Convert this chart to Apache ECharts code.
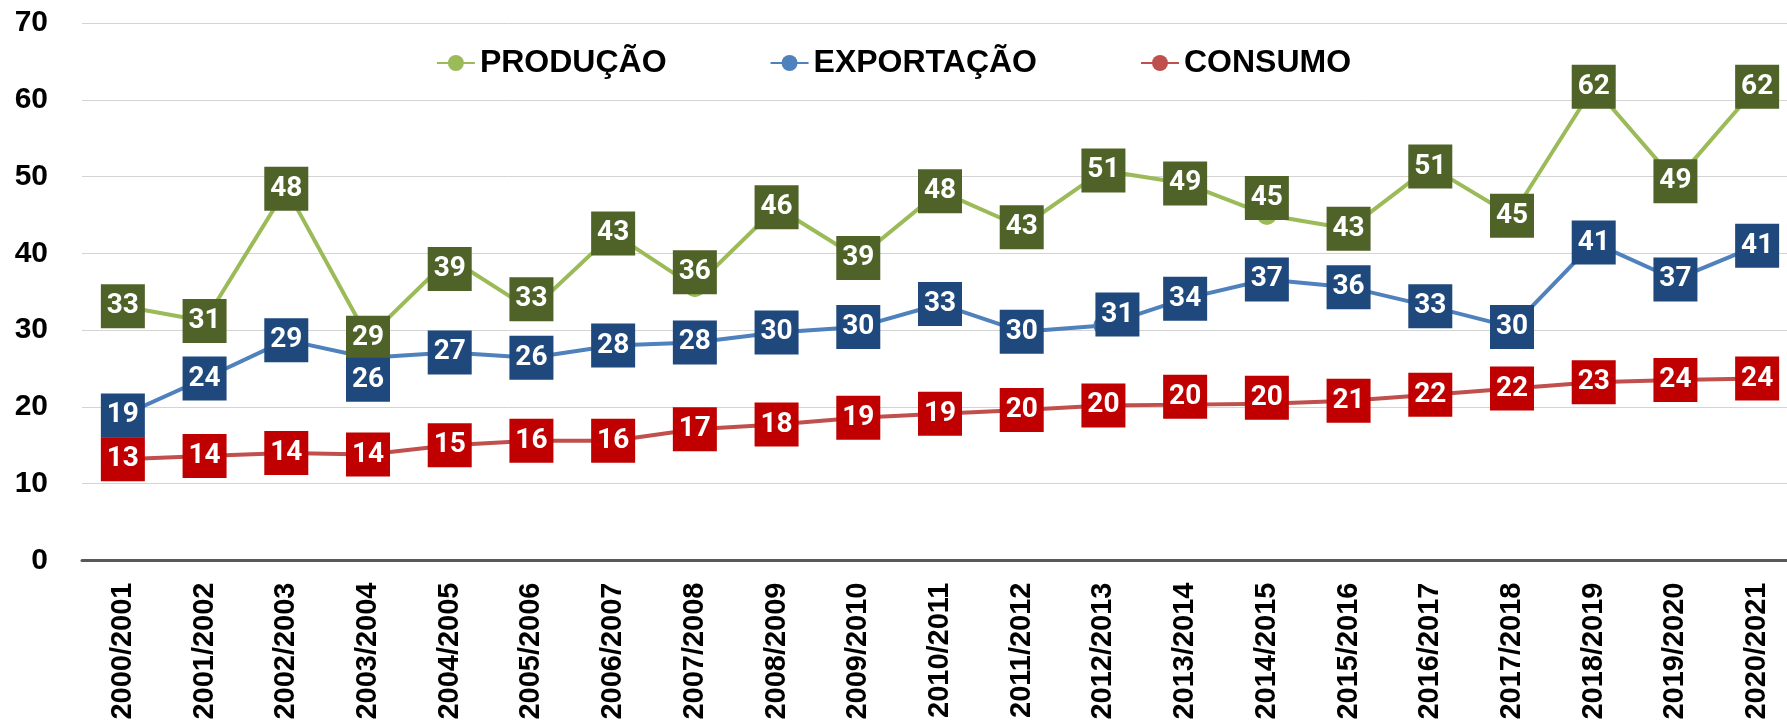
<!doctype html>
<html>
    <head>
        <meta charset="utf-8">
        <style>
            html, body { margin: 0; padding: 0; background: #fff; }
            #main { width: 1787px; height: 724px; }
        </style>
    </head>
    <body>
        <div id="main"></div>
        <script src="https://cdn.jsdelivr.net/npm/echarts@6/dist/echarts.min.js"></script>
        <script>
            var categories = ['2000/2001', '2001/2002', '2002/2003', '2003/2004', '2004/2005', '2005/2006', '2006/2007',
                '2007/2008', '2008/2009', '2009/2010', '2010/2011', '2011/2012', '2012/2013', '2013/2014',
                '2014/2015', '2015/2016', '2016/2017', '2017/2018', '2018/2019', '2019/2020', '2020/2021'];

            var producao = [33.1, 31.2, 48.4, 29.0, 39.4, 32.6, 42.6, 35.6, 46.0, 39.4, 48.1,
                43.4, 50.8, 49.1, 45.0, 43.2, 51.3, 44.9, 61.7, 49.4, 61.7];
            var exportacao = [18.9, 23.7, 28.7, 26.4, 27.1, 26.4, 28.0, 28.4, 29.7, 30.4, 33.4,
                29.8, 30.6, 34.1, 36.6, 35.6, 33.1, 30.4, 41.4, 36.6, 41.0];
            var consumo = [13.2, 13.6, 14.0, 13.8, 15.0, 15.6, 15.6, 17.1, 17.7, 18.6, 19.1,
                19.6, 20.2, 20.3, 20.4, 20.8, 21.6, 22.4, 23.2, 23.5, 23.7];

            // labels that were dragged off their point in the original
            var nudges = {
                'PRODUÇÃO': { 4: [0, 11], 5: [0, -11], 7: [0, -15], 14: [0, -17] },
                'EXPORTAÇÃO': { 3: [0, 22], 12: [14, -11] },
                'CONSUMO': { 13: [0, -8], 14: [0, -6] }
            };

            function makeSeries(name, values, lineColor, boxColor) {
                var moved = nudges[name] || {};
                return {
                    name: name,
                    type: 'line',
                    symbol: 'circle',
                    symbolSize: 20,
                    lineStyle: { color: lineColor, width: 4 },
                    itemStyle: { color: lineColor },
                    label: {
                        show: true,
                        position: 'inside',
                        formatter: function (p) { return Math.round(p.value); },
                        color: '#fff',
                        fontFamily: 'Roboto',
                        fontWeight: 'bold',
                        fontSize: 28,
                        backgroundColor: boxColor,
                        width: 44,
                        height: 44,
                        lineHeight: 44,
                        align: 'center',
                        verticalAlign: 'middle',
                        padding: 0
                    },
                    emphasis: { disabled: true },
                    data: values.map(function (v, i) {
                        if (moved[i]) return { value: v, label: { offset: moved[i] } };
                        return v;
                    })
                };
            }

            var chart = echarts.init(document.getElementById('main'));

            chart.setOption({
                animation: false,
                backgroundColor: '#fff',
                grid: {
                    left: 82,
                    top: 23,
                    width: 1716,
                    bottom: 163.5,
                    containLabel: false,
                    outerBoundsMode: 'none'
                },
                legend: {
                    top: 42,
                    left: 'center',
                    itemGap: 103,
                    itemWidth: 38,
                    itemHeight: 20,
                    textStyle: {
                        fontFamily: 'Liberation Sans',
                        fontWeight: 'bold',
                        fontSize: 32,
                        color: '#000'
                    },
                    data: ['PRODUÇÃO', 'EXPORTAÇÃO', 'CONSUMO']
                },
                xAxis: {
                    type: 'category',
                    data: categories,
                    boundaryGap: true,
                    axisLine: { lineStyle: { color: '#595959', width: 3 } },
                    axisTick: { show: false },
                    axisLabel: {
                        rotate: 90,
                        margin: 22,
                        interval: 0,
                        color: '#000',
                        fontFamily: 'Liberation Sans',
                        fontWeight: 'bold',
                        fontSize: 29
                    }
                },
                yAxis: {
                    type: 'value',
                    min: 0,
                    max: 70,
                    interval: 10,
                    axisLine: { show: false },
                    axisTick: { show: false },
                    splitLine: { lineStyle: { color: '#d4d4d4', width: 1 } },
                    axisLabel: {
                        margin: 34,
                        color: '#000',
                        fontFamily: 'Liberation Sans',
                        fontWeight: 'bold',
                        fontSize: 30
                    }
                },
                series: [
                    makeSeries('PRODUÇÃO', producao, '#9BBB59', '#4F6228'),
                    makeSeries('EXPORTAÇÃO', exportacao, '#4F81BD', '#1F497D'),
                    makeSeries('CONSUMO', consumo, '#C0504D', '#C00000')
                ]
            });

            window.onresize = chart.resize;
        </script>
    </body>
</html>
